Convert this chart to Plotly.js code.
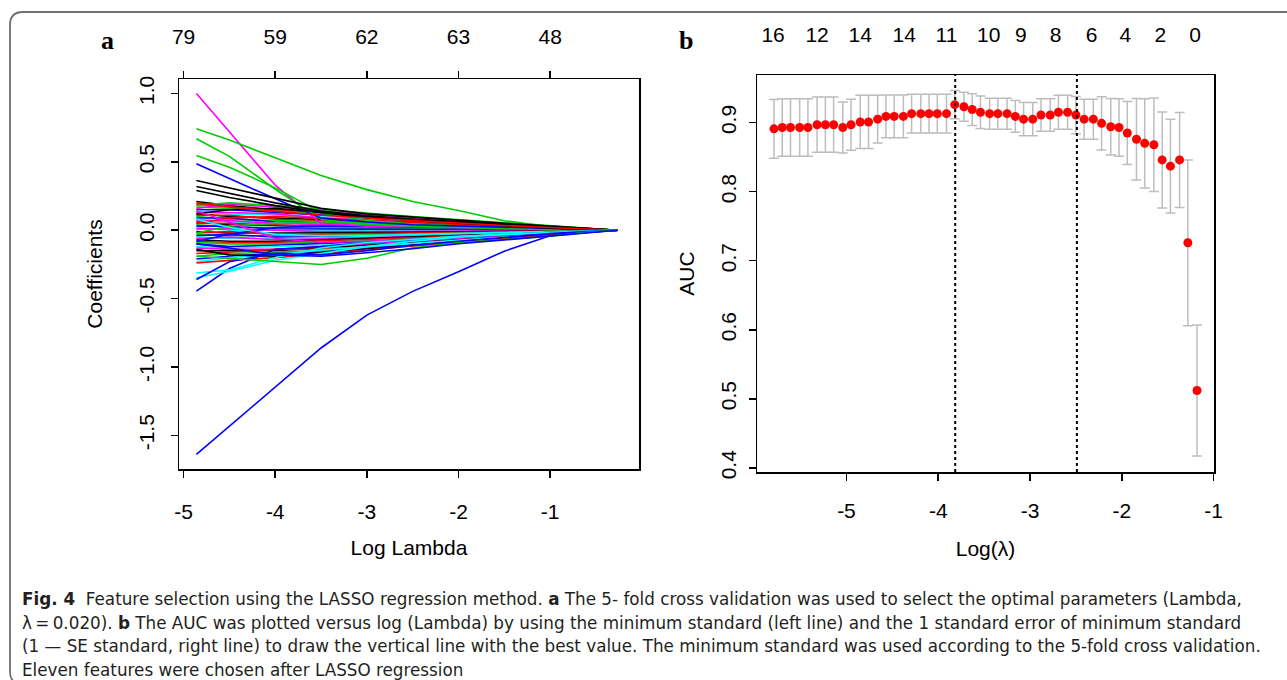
<!DOCTYPE html>
<html>
<head>
<meta charset="utf-8">
<script src="https://cdn.plot.ly/plotly-3.0.1.min.js"></script>
<style>
  html, body { margin: 0; padding: 0; background: #ffffff; }
  #chart { width: 1287px; height: 680px; }
</style>
</head>
<body>
<div id="chart"></div>
<script>
// ---------- Panel a : LASSO coefficient paths ----------
const lassoLogLambda = [-4.86, -4.5, -4.0, -3.5, -3.0, -2.5, -2.0, -1.5, -1.0, -0.5, -0.26];
const topTicksA = [-5, -4, -3, -2, -1];
const topLabelsA = ['79', '59', '62', '63', '48'];
const bottomLabelsA = ['-5', '-4', '-3', '-2', '-1'];
const yTicksA = [-1.5, -1.0, -0.5, 0.0, 0.5, 1.0];
const yLabelsA = ['-1.5', '-1.0', '-0.5', '0.0', '0.5', '1.0'];

const pathMagenta = [1.0, 0.72, 0.33, 0.05, 0.03, 0.025, 0.02, 0.012, 0.006, 0.002, 0];
const pathGreenTop = [0.742, 0.66, 0.53, 0.40, 0.297, 0.21, 0.145, 0.07, 0.025, 0.002, 0];
const pathGreen2 = [0.669, 0.54, 0.30, 0.08, 0.04, 0.03, 0.02, 0.012, 0.006, 0.002, 0];
const pathGreen3 = [0.547, 0.46, 0.31, 0.13, 0.07, 0.045, 0.03, 0.018, 0.009, 0.003, 0];
const pathBlueTop = [0.486, 0.38, 0.23, 0.09, 0.06, 0.04, 0.03, 0.02, 0.01, 0.003, 0];
const pathBlack1 = [0.364, 0.31, 0.23, 0.16, 0.12, 0.095, 0.075, 0.05, 0.03, 0.01, 0];
const pathBlack2 = [0.32, 0.27, 0.20, 0.14, 0.105, 0.08, 0.06, 0.04, 0.025, 0.008, 0];
const pathBlack3 = [0.29, 0.24, 0.18, 0.13, 0.09, 0.07, 0.05, 0.03, 0.015, 0.005, 0];
const pathRed1 = [0.20, 0.17, 0.14, 0.11, 0.09, 0.07, 0.05, 0.035, 0.02, 0.008, 0];
const pathBlueBig = [-1.639, -1.434, -1.148, -0.861, -0.621, -0.447, -0.303, -0.153, -0.04, -0.006, 0];
const pathBlue2 = [-0.445, -0.28, -0.14, -0.12, -0.09, -0.07, -0.05, -0.03, -0.015, -0.004, 0];
const pathCyan1 = [-0.313, -0.29, -0.20, -0.13, -0.09, -0.065, -0.045, -0.03, -0.015, -0.004, 0];
const pathCyan2 = [-0.347, -0.30, -0.22, -0.17, -0.12, -0.08, -0.05, -0.03, -0.015, -0.004, 0];
const pathBlue3 = [-0.36, -0.23, -0.17, -0.18, -0.15, -0.11, -0.08, -0.05, -0.025, -0.006, 0];
const pathGreenLow = [-0.19, -0.205, -0.225, -0.25, -0.205, -0.128, -0.092, -0.068, -0.043, -0.01, 0];
const pathBlue4 = [-0.10, -0.13, -0.18, -0.19, -0.165, -0.135, -0.099, -0.07, -0.04, -0.01, 0];

const bundlePaths = [
  [0.21, 0.18, 0.15, 0.13, 0.11, 0.088, 0.07, 0.05, 0.03, 0.009, 0],
  [0.19, 0.17, 0.15, 0.125, 0.105, 0.085, 0.068, 0.047, 0.027, 0.008, 0],
  [0.17, 0.16, 0.14, 0.12, 0.10, 0.08, 0.065, 0.045, 0.025, 0.008, 0],
  [0.15, 0.15, 0.13, 0.11, 0.095, 0.075, 0.06, 0.04, 0.022, 0.007, 0],
  [0.14, 0.12, 0.11, 0.10, 0.085, 0.07, 0.055, 0.037, 0.02, 0.006, 0],
  [0.13, 0.13, 0.12, 0.09, 0.075, 0.06, 0.048, 0.032, 0.018, 0.005, 0],
  [0.12, 0.10, 0.09, 0.08, 0.07, 0.056, 0.044, 0.03, 0.016, 0.005, 0],
  [0.11, 0.11, 0.08, 0.07, 0.06, 0.05, 0.04, 0.027, 0.014, 0.004, 0],
  [0.10, 0.08, 0.07, 0.065, 0.055, 0.045, 0.035, 0.024, 0.012, 0.004, 0],
  [0.09, 0.09, 0.06, 0.05, 0.045, 0.04, 0.03, 0.02, 0.01, 0.003, 0],
  [0.08, 0.06, 0.055, 0.045, 0.04, 0.035, 0.027, 0.018, 0.009, 0.003, 0],
  [0.07, 0.07, 0.05, 0.04, 0.035, 0.03, 0.024, 0.016, 0.008, 0.002, 0],
  [0.06, 0.04, 0.035, 0.03, 0.028, 0.024, 0.019, 0.013, 0.007, 0.002, 0],
  [0.05, 0.05, 0.04, 0.025, 0.02, 0.018, 0.015, 0.01, 0.005, 0.002, 0],
  [0.04, 0.02, 0.02, 0.02, 0.015, 0.012, 0.01, 0.007, 0.004, 0.001, 0],
  [0.03, 0.03, 0.01, 0.01, 0.008, 0.006, 0.005, 0.004, 0.002, 0.001, 0],
  [0.02, 0.0, 0.0, -0.005, -0.005, -0.004, -0.003, -0.002, -0.001, 0, 0],
  [0.01, 0.01, 0.0, -0.01, -0.01, -0.008, -0.006, -0.004, -0.002, -0.001, 0],
  [-0.01, -0.02, -0.02, -0.02, -0.018, -0.015, -0.012, -0.008, -0.004, -0.001, 0],
  [-0.02, -0.01, -0.03, -0.03, -0.025, -0.02, -0.016, -0.011, -0.006, -0.002, 0],
  [-0.03, -0.04, -0.04, -0.04, -0.035, -0.028, -0.022, -0.015, -0.008, -0.002, 0],
  [-0.04, -0.03, -0.05, -0.05, -0.042, -0.034, -0.027, -0.018, -0.01, -0.003, 0],
  [-0.05, -0.06, -0.06, -0.055, -0.05, -0.04, -0.032, -0.022, -0.012, -0.003, 0],
  [-0.06, -0.05, -0.07, -0.065, -0.056, -0.046, -0.036, -0.025, -0.014, -0.004, 0],
  [-0.07, -0.08, -0.08, -0.07, -0.06, -0.05, -0.04, -0.028, -0.016, -0.004, 0],
  [-0.08, -0.09, -0.09, -0.08, -0.07, -0.056, -0.045, -0.03, -0.017, -0.005, 0],
  [-0.09, -0.10, -0.10, -0.09, -0.078, -0.062, -0.05, -0.034, -0.019, -0.005, 0],
  [-0.10, -0.12, -0.11, -0.10, -0.085, -0.068, -0.054, -0.037, -0.02, -0.006, 0],
  [-0.12, -0.13, -0.12, -0.11, -0.09, -0.075, -0.058, -0.04, -0.022, -0.006, 0],
  [-0.13, -0.14, -0.14, -0.12, -0.10, -0.08, -0.062, -0.043, -0.024, -0.007, 0],
  [-0.15, -0.15, -0.15, -0.13, -0.11, -0.088, -0.068, -0.046, -0.026, -0.007, 0],
  [-0.17, -0.16, -0.14, -0.14, -0.12, -0.095, -0.072, -0.05, -0.028, -0.008, 0],
  [-0.19, -0.17, -0.16, -0.15, -0.125, -0.10, -0.077, -0.052, -0.03, -0.008, 0],
  [-0.21, -0.19, -0.17, -0.16, -0.13, -0.105, -0.08, -0.055, -0.032, -0.009, 0],
  [-0.23, -0.20, -0.18, -0.145, -0.12, -0.095, -0.075, -0.05, -0.03, -0.008, 0],
  [0.16, 0.19, 0.17, 0.14, 0.115, 0.09, 0.072, 0.05, 0.028, 0.009, 0],
  [0.12, 0.15, 0.16, 0.13, 0.10, 0.078, 0.06, 0.042, 0.024, 0.007, 0],
  [0.05, 0.09, 0.10, 0.085, 0.07, 0.058, 0.045, 0.03, 0.017, 0.005, 0],
  [-0.02, 0.03, 0.05, 0.055, 0.05, 0.042, 0.033, 0.022, 0.012, 0.003, 0],
  [-0.08, -0.03, 0.02, 0.03, 0.03, 0.025, 0.02, 0.014, 0.008, 0.002, 0],
  [0.08, 0.02, -0.03, -0.04, -0.038, -0.03, -0.024, -0.016, -0.009, -0.002, 0],
  [0.14, 0.06, -0.06, -0.09, -0.08, -0.064, -0.05, -0.034, -0.018, -0.005, 0],
  [-0.14, -0.18, -0.19, -0.165, -0.14, -0.11, -0.085, -0.058, -0.033, -0.009, 0],
  [-0.24, -0.22, -0.2, -0.175, -0.145, -0.115, -0.088, -0.06, -0.034, -0.009, 0],
  [0.18, 0.2, 0.18, 0.15, 0.125, 0.1, 0.078, 0.054, 0.031, 0.009, 0]
];

// ---------- Panel b : cross-validated AUC ----------
const aucLogLambda = [-5.79, -5.70, -5.61, -5.51, -5.42, -5.32, -5.23, -5.14, -5.04, -4.95,
  -4.85, -4.76, -4.66, -4.57, -4.48, -4.38, -4.29, -4.19, -4.10, -4.01,
  -3.91, -3.82, -3.72, -3.63, -3.54, -3.44, -3.35, -3.25, -3.16, -3.07,
  -2.97, -2.88, -2.78, -2.69, -2.59, -2.50, -2.41, -2.31, -2.22, -2.12,
  -2.03, -1.94, -1.84, -1.75, -1.65, -1.56, -1.47, -1.37, -1.28, -1.18];
const aucMean = [0.891, 0.893, 0.893, 0.893, 0.893, 0.897, 0.897, 0.897, 0.893, 0.897,
  0.901, 0.901, 0.905, 0.909, 0.909, 0.909, 0.913, 0.913, 0.913, 0.913,
  0.913, 0.926, 0.923, 0.919, 0.915, 0.913, 0.913, 0.913, 0.909, 0.905,
  0.905, 0.911, 0.911, 0.915, 0.915, 0.911, 0.905, 0.905, 0.899, 0.894,
  0.893, 0.885, 0.876, 0.870, 0.868, 0.846, 0.837, 0.846, 0.726, 0.512];
const aucSD = [0.0425, 0.0415, 0.0415, 0.0415, 0.0415, 0.040, 0.040, 0.040, 0.037, 0.037,
  0.0385, 0.0385, 0.0345, 0.031, 0.031, 0.031, 0.028, 0.028, 0.028, 0.028,
  0.028, 0.0205, 0.021, 0.023, 0.0235, 0.0225, 0.0225, 0.0225, 0.023, 0.024,
  0.024, 0.0235, 0.0235, 0.0245, 0.0245, 0.027, 0.029, 0.029, 0.0385, 0.041,
  0.0415, 0.0457, 0.059, 0.0647, 0.0677, 0.0695, 0.068, 0.0688, 0.120, 0.095];
const lambdaMinLog = -3.815;
const lambda1seLog = -2.489;
const topTicksB = [-5.80, -5.32, -4.85, -4.37, -3.91, -3.45, -3.10, -2.72, -2.33, -1.96, -1.58, -1.20];
const topLabelsB = ['16', '12', '14', '14', '11', '10', '9', '8', '6', '4', '2', '0'];
const bottomTicksB = [-5, -4, -3, -2, -1];
const bottomLabelsB = ['-5', '-4', '-3', '-2', '-1'];
const yTicksB = [0.4, 0.5, 0.6, 0.7, 0.8, 0.9];
const yLabelsB = ['0.4', '0.5', '0.6', '0.7', '0.8', '0.9'];

// ---------- Caption ----------
const captionLines = [
  '<b>Fig. 4</b>  Feature selection using the LASSO regression method. <b>a</b> The 5- fold cross validation was used to select the optimal parameters (Lambda,',
  'λ\u2009=\u20090.020). <b>b</b> The AUC was plotted versus log (Lambda) by using the minimum standard (left line) and the 1 standard error of minimum standard',
  '(1 \u2014 SE standard, right line) to draw the vertical line with the best value. The minimum standard was used according to the 5-fold cross validation.',
  'Eleven features were chosen after LASSO regression'
];

// ---------- build ----------
const W = 1287, H = 680;
const px = v => v / W;
const py = v => 1 - v / H;
const palette = ['black', 'red', '#00CD00', 'blue', 'cyan', 'magenta'];
const FONT = 'Liberation Sans, Arial, sans-serif';
const tickFont = {family: FONT, size: 21, color: '#000'};

const traces = [];
const named = [
  [pathMagenta, 'magenta'], [pathGreenTop, '#00CD00'], [pathGreen2, '#00CD00'], [pathGreen3, '#00CD00'],
  [pathBlueTop, 'blue'], [pathBlack1, 'black'], [pathBlack2, 'black'], [pathBlack3, 'black'],
  [pathRed1, 'red'], [pathBlueBig, 'blue'], [pathBlue2, 'blue'], [pathCyan1, 'cyan'],
  [pathCyan2, 'cyan'], [pathBlue3, 'blue'], [pathGreenLow, '#00CD00'], [pathBlue4, 'blue']
];
bundlePaths.forEach((p, i) => {
  traces.push({x: lassoLogLambda, y: p, type: 'scatter', mode: 'lines', xaxis: 'x', yaxis: 'y',
    line: {color: palette[i % palette.length], width: 1.6}, hoverinfo: 'skip', showlegend: false});
});
named.forEach(([p, c]) => {
  traces.push({x: lassoLogLambda, y: p, type: 'scatter', mode: 'lines', xaxis: 'x', yaxis: 'y',
    line: {color: c, width: 1.6}, hoverinfo: 'skip', showlegend: false});
});
// dummy traces for top axes
traces.push({x: [], y: [], xaxis: 'x3', yaxis: 'y', type: 'scatter', showlegend: false});
traces.push({x: [], y: [], xaxis: 'x4', yaxis: 'y2', type: 'scatter', showlegend: false});

traces.push({
  x: aucLogLambda, y: aucMean, type: 'scatter', mode: 'markers', xaxis: 'x2', yaxis: 'y2',
  marker: {color: 'red', size: 9},
  error_y: {type: 'data', array: aucSD, visible: true, color: '#BDBDBD', thickness: 1.5, width: 5},
  hoverinfo: 'skip', showlegend: false
});

const boxAxis = {showline: true, mirror: true, linecolor: '#000', linewidth: 1.5, ticks: 'outside',
  ticklen: 7, tickwidth: 1.5, tickcolor: '#000', showgrid: false, zeroline: false, tickfont: tickFont,
  automargin: false, fixedrange: true};

const layout = {
  width: W, height: H, margin: {l: 0, r: 0, t: 0, b: 0},
  paper_bgcolor: '#fff', plot_bgcolor: '#fff', showlegend: false,
  xaxis: Object.assign({}, boxAxis, {domain: [px(179), px(639)], range: [-5.05, -0.03], anchor: 'y',
    tickmode: 'array', tickvals: topTicksA, ticktext: bottomLabelsA, ticklabelstandoff: 16,
    title: {text: 'Log Lambda', font: {family: FONT, size: 21, color: '#000'}, standoff: 18}}),
  yaxis: Object.assign({}, boxAxis, {domain: [py(469), py(79)], range: [-1.746, 1.106], anchor: 'x',
    tickmode: 'array', tickvals: yTicksA, ticktext: yLabelsA, tickangle: -90, ticklabelstandoff: 8,
    title: {text: 'Coefficients', font: {family: FONT, size: 21, color: '#000'}, standoff: 26}}),
  xaxis3: {overlaying: 'x', side: 'top', anchor: 'y', range: [-5.05, -0.03], tickmode: 'array',
    tickvals: topTicksA, ticktext: topLabelsA, ticks: 'outside', ticklen: 7, tickwidth: 1.5, tickcolor: '#000',
    showline: false, showgrid: false, zeroline: false, tickfont: tickFont, ticklabelstandoff: 19,
    automargin: false, fixedrange: true},
  xaxis2: Object.assign({}, boxAxis, {domain: [px(757), px(1214)], range: [-5.975, -0.995], anchor: 'y2',
    tickmode: 'array', tickvals: bottomTicksB, ticktext: bottomLabelsB, ticklabelstandoff: 12,
    title: {text: 'Log(λ)', font: {family: FONT, size: 21, color: '#000'}, standoff: 20}}),
  yaxis2: Object.assign({}, boxAxis, {domain: [py(472), py(75)], range: [0.394, 0.969], anchor: 'x2',
    tickmode: 'array', tickvals: yTicksB, ticktext: yLabelsB, tickangle: -90, ticklabelstandoff: 4,
    title: {text: 'AUC', font: {family: FONT, size: 21, color: '#000'}, standoff: 16}}),
  xaxis4: {overlaying: 'x2', side: 'top', anchor: 'y2', range: [-5.975, -0.995], tickmode: 'array',
    tickvals: topTicksB, ticktext: topLabelsB, ticks: '', showline: false, showgrid: false, zeroline: false,
    tickfont: tickFont, ticklabelstandoff: 28, automargin: false, fixedrange: true},
  shapes: [
    {type: 'line', xref: 'x2', yref: 'y2 domain', x0: lambdaMinLog, x1: lambdaMinLog, y0: 0, y1: 1,
      line: {color: '#000', width: 2, dash: 'dot'}},
    {type: 'line', xref: 'x2', yref: 'y2 domain', x0: lambda1seLog, x1: lambda1seLog, y0: 0, y1: 1,
      line: {color: '#000', width: 2, dash: 'dot'}},
    {type: 'path', xref: 'paper', yref: 'paper', layer: 'above',
      path: `M ${px(1295)} ${py(12)} L ${px(23)} ${py(12)} Q ${px(10)} ${py(12)} ${px(10)} ${py(25)} L ${px(10)} ${py(672)} Q ${px(10)} ${py(684)} ${px(23)} ${py(684)}`,
      line: {color: '#707070', width: 1.8}}
  ],
  annotations: [
    {text: '<b>a</b>', x: px(107), y: py(40), xref: 'paper', yref: 'paper', showarrow: false,
      xanchor: 'center', yanchor: 'middle',
      font: {family: 'Liberation Serif, Times New Roman, serif', size: 26, color: '#000'}},
    {text: '<b>b</b>', x: px(686), y: py(40), xref: 'paper', yref: 'paper', showarrow: false,
      xanchor: 'center', yanchor: 'middle',
      font: {family: 'Liberation Serif, Times New Roman, serif', size: 26, color: '#000'}}
  ]
};
captionLines.forEach((t, i) => {
  layout.annotations.push({text: t, x: px(20), y: py(599 + 23.6 * i), xref: 'paper', yref: 'paper',
    xanchor: 'left', yanchor: 'middle', showarrow: false, align: 'left',
    font: {family: 'DejaVu Sans, sans-serif', size: 16.8, color: '#231F20'}});
});

Plotly.newPlot('chart', traces, layout, {staticPlot: true, displayModeBar: false});
</script>
</body>
</html>
